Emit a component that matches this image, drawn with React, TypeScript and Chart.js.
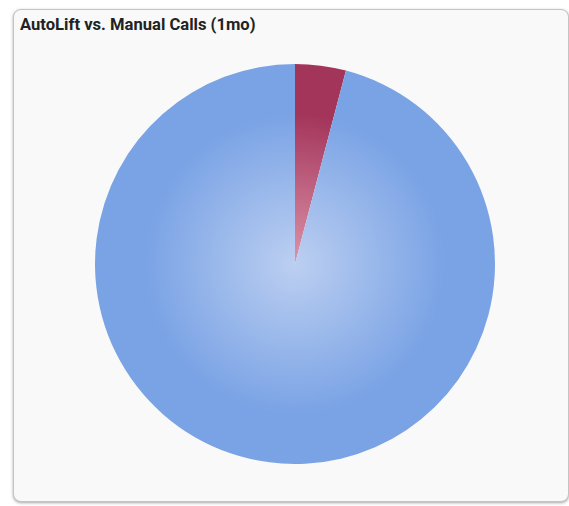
import React, { useEffect, useRef } from "react";
import { Chart, registerables } from "chart.js";

Chart.register(...registerables);

const TITLE = "AutoLift vs. Manual Calls (1mo)";
const categories = ["AutoLift", "Manual"];
const values = [4.1, 95.9];
const baseColors = ["#a3355a", "#7aa3e5"];
const lightColors = ["#dc93aa", "#bccff1"];

export default function App() {
  const ref = useRef<HTMLCanvasElement | null>(null);

  useEffect(() => {
    if (!ref.current) return;
    const chart = new Chart(ref.current, {
      type: "pie",
      data: {
        labels: categories,
        datasets: [
          {
            data: values,
            borderWidth: 0,
            backgroundColor: (ctx: any) => {
              const c = ctx.chart;
              const area = c.chartArea;
              const i = ctx.dataIndex;
              if (!area) return baseColors[i];
              const cx = (area.left + area.right) / 2;
              const cy = (area.top + area.bottom) / 2;
              const r = Math.min(area.right - area.left, area.bottom - area.top) / 2;
              const g = c.ctx.createRadialGradient(cx, cy, 0, cx, cy, r * 0.75);
              g.addColorStop(0, lightColors[i]);
              g.addColorStop(1, baseColors[i]);
              return g;
            },
          },
        ],
      },
      options: {
        responsive: false,
        animation: false,
        layout: { padding: 0 },
        plugins: {
          legend: { display: false },
          tooltip: { enabled: false },
          title: { display: false },
        },
      },
    });
    return () => chart.destroy();
  }, []);

  return (
    <div style={{ position: "absolute", left: 0, top: 0, width: 569, height: 506, background: "#ffffff", overflow: "hidden" }}>
      <div
        style={{
          position: "absolute",
          left: 13,
          top: 9,
          width: 554,
          height: 491,
          background: "#f9f9f9",
          border: "1px solid #c4c4c4",
          borderRadius: 8,
          boxShadow: "0 1px 3px rgba(0,0,0,0.35)",
        }}
      />
      <div
        style={{
          position: "absolute",
          left: 20,
          top: 15,
          fontFamily: "Roboto, 'Open Sans', sans-serif",
          fontWeight: 700,
          fontSize: 16.6,
          color: "#222",
          whiteSpace: "nowrap",
        }}
      >
        {TITLE}
      </div>
      <canvas
        ref={ref}
        width={400}
        height={400}
        style={{ position: "absolute", left: 95, top: 64, width: 400, height: 400 }}
      />
    </div>
  );
}
